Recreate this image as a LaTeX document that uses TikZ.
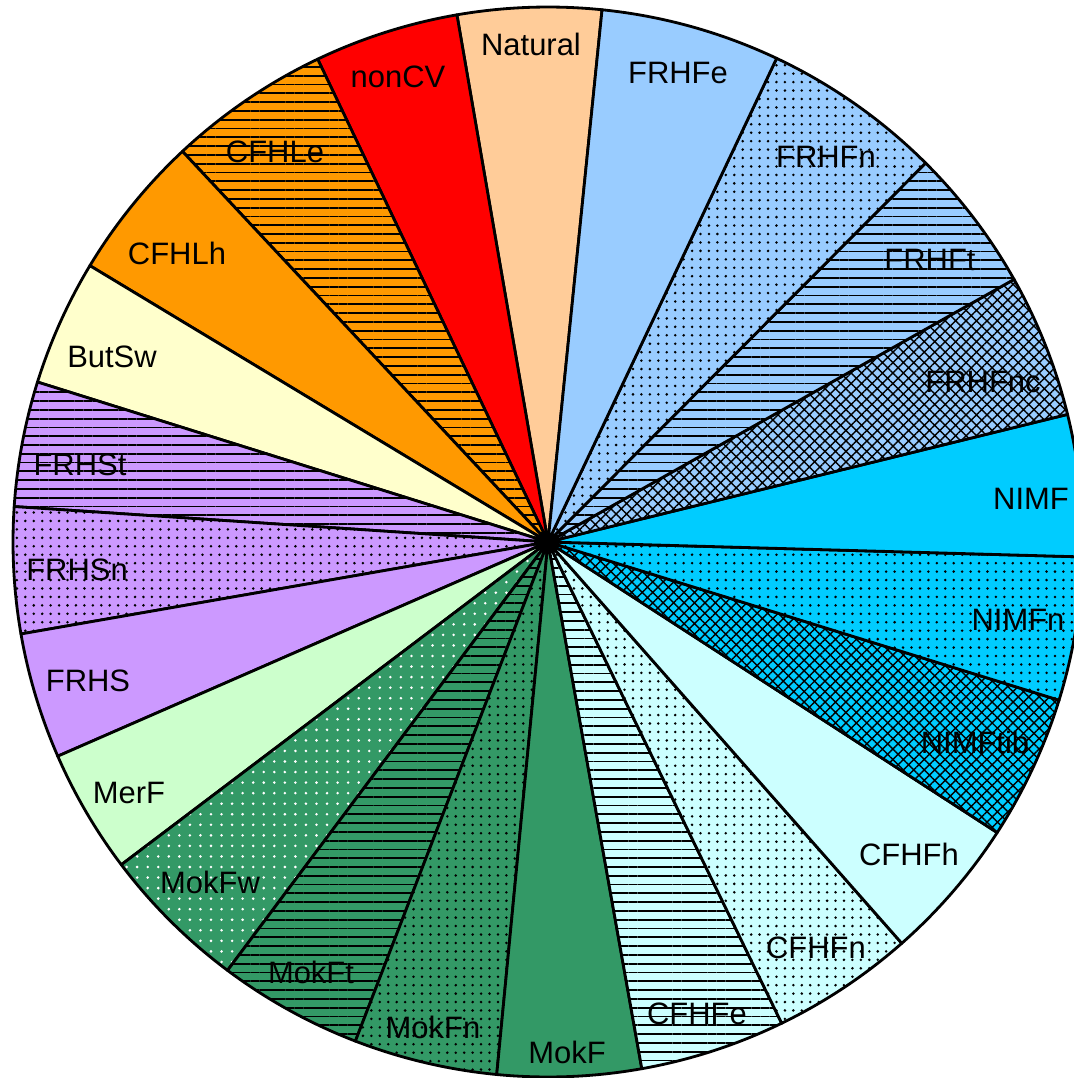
\documentclass[tikz,border=0pt]{standalone}
\usepackage{fontspec}
\setmainfont{Liberation Sans}
\usetikzlibrary{patterns.meta}
\definecolor{peach}{HTML}{FFCC99}
\definecolor{skyb}{HTML}{99CCFF}
\definecolor{cyanb}{HTML}{00CCFF}
\definecolor{icec}{HTML}{CCFFFF}
\definecolor{mokg}{HTML}{339966}
\definecolor{mint}{HTML}{CCFFCC}
\definecolor{lilac}{HTML}{CC99FF}
\definecolor{cream}{HTML}{FFFFCC}
\definecolor{amber}{HTML}{FF9900}
\tikzset{
  slice/.style={draw,line width=0.8pt,line join=round},
  hlines/.style={preaction={fill=#1},pattern={Lines[distance=2.5pt,line width=0.5pt]}},
  bdots/.style={preaction={fill=#1},pattern={Dots[distance=2.4pt,radius=0.4pt]}},
  wdots/.style={preaction={fill=#1},pattern={Dots[distance=3pt,radius=0.4pt]},pattern color=white},
  xhatch/.style={preaction={fill=#1},pattern={Hatch[angle=45,distance=2.1pt,line width=0.4pt]}},
  lbl/.style={font=\fontsize{8.8pt}{10pt}\selectfont,inner sep=0pt}
}
\begin{document}
\begin{tikzpicture}[x=0.01cm,y=0.01cm]
\clip (-548,-536) rectangle (526,542);
% slices, counterclockwise from Natural
\path[slice,fill=peach] (0,0)--(84.2:535) arc(84.2:99.8:535)--cycle;
\path[slice,fill=red] (0,0)--(99.8:535) arc(99.8:115.5:535)--cycle;
\path[slice,hlines=amber] (0,0)--(115.5:535) arc(115.5:133.1:535)--cycle;
\path[slice,fill=amber] (0,0)--(133.1:535) arc(133.1:148.9:535)--cycle;
\path[slice,fill=cream] (0,0)--(148.9:535) arc(148.9:162.6:535)--cycle;
\path[slice,hlines=lilac] (0,0)--(162.6:535) arc(162.6:176.2:535)--cycle;
\path[slice,bdots=lilac] (0,0)--(176.2:535) arc(176.2:189.9:535)--cycle;
\path[slice,fill=lilac] (0,0)--(189.9:535) arc(189.9:203.6:535)--cycle;
\path[slice,fill=mint] (0,0)--(203.6:535) arc(203.6:217.1:535)--cycle;
\path[slice,wdots=mokg] (0,0)--(217.1:535) arc(217.1:233.2:535)--cycle;
\path[slice,hlines=mokg] (0,0)--(233.2:535) arc(233.2:248.9:535)--cycle;
\path[slice,bdots=mokg] (0,0)--(248.9:535) arc(248.9:264.5:535)--cycle;
\path[slice,fill=mokg] (0,0)--(264.5:535) arc(264.5:280.1:535)--cycle;
\path[slice,hlines=icec] (0,0)--(280.1:535) arc(280.1:295.9:535)--cycle;
\path[slice,bdots=icec] (0,0)--(295.9:535) arc(295.9:311.4:535)--cycle;
\path[slice,fill=icec] (0,0)--(311.4:535) arc(311.4:327.1:535)--cycle;
\path[slice,xhatch=cyanb] (0,0)--(327.1:535) arc(327.1:342.8:535)--cycle;
\path[slice,bdots=cyanb] (0,0)--(342.8:535) arc(342.8:358.4:535)--cycle;
\path[slice,fill=cyanb] (0,0)--(358.4:535) arc(358.4:373.8:535)--cycle;
\path[slice,xhatch=skyb] (0,0)--(13.8:535) arc(13.8:29.4:535)--cycle;
\path[slice,hlines=skyb] (0,0)--(29.4:535) arc(29.4:45.1:535)--cycle;
\path[slice,bdots=skyb] (0,0)--(45.1:535) arc(45.1:64.7:535)--cycle;
\path[slice,fill=skyb] (0,0)--(64.7:535) arc(64.7:84.2:535)--cycle;
% labels
\node[lbl] (natural) at (-17,498) {Natural};
\node[lbl] (noncv) at (-150,465) {nonCV};
\node[lbl] (cfhle) at (-273,390) {CFHLe};
\node[lbl] (cfhlh) at (-371,289) {CFHLh};
\node[lbl] (butsw) at (-436,185) {ButSw};
\node[lbl] (frhst) at (-468,77) {FRHSt};
\node[lbl] (frhsn) at (-471,-28) {FRHSn};
\node[lbl] (frhs) at (-460,-139) {FRHS};
\node[lbl] (merf) at (-419,-251) {MerF};
\node[lbl] (mokfw) at (-338,-340) {MokFw};
\node[lbl] (mokft) at (-237,-430) {MokFt};
\node[lbl] (mokfn) at (-115,-485) {MokFn};
\node[lbl] (mokf) at (19,-510) {MokF};
\node[lbl] (cfhfe) at (149,-472) {CFHFe};
\node[lbl] (cfhfn) at (268,-406) {CFHFn};
\node[lbl] (cfhfh) at (361,-312) {CFHFh};
\node[lbl] (nimftib) at (427,-200) {NIMFtib};
\node[lbl] (nimfn) at (470,-78) {NIMFn};
\node[lbl] (nimf) at (483,43) {NIMF};
\node[lbl] (frhfnc) at (435,160) {FRHFnc};
\node[lbl] (frhft) at (382,282) {FRHFt};
\node[lbl] (frhfn) at (278,385) {FRHFn};
\node[lbl] (frhfe) at (130,469) {FRHFe};
\end{tikzpicture}
\end{document}
